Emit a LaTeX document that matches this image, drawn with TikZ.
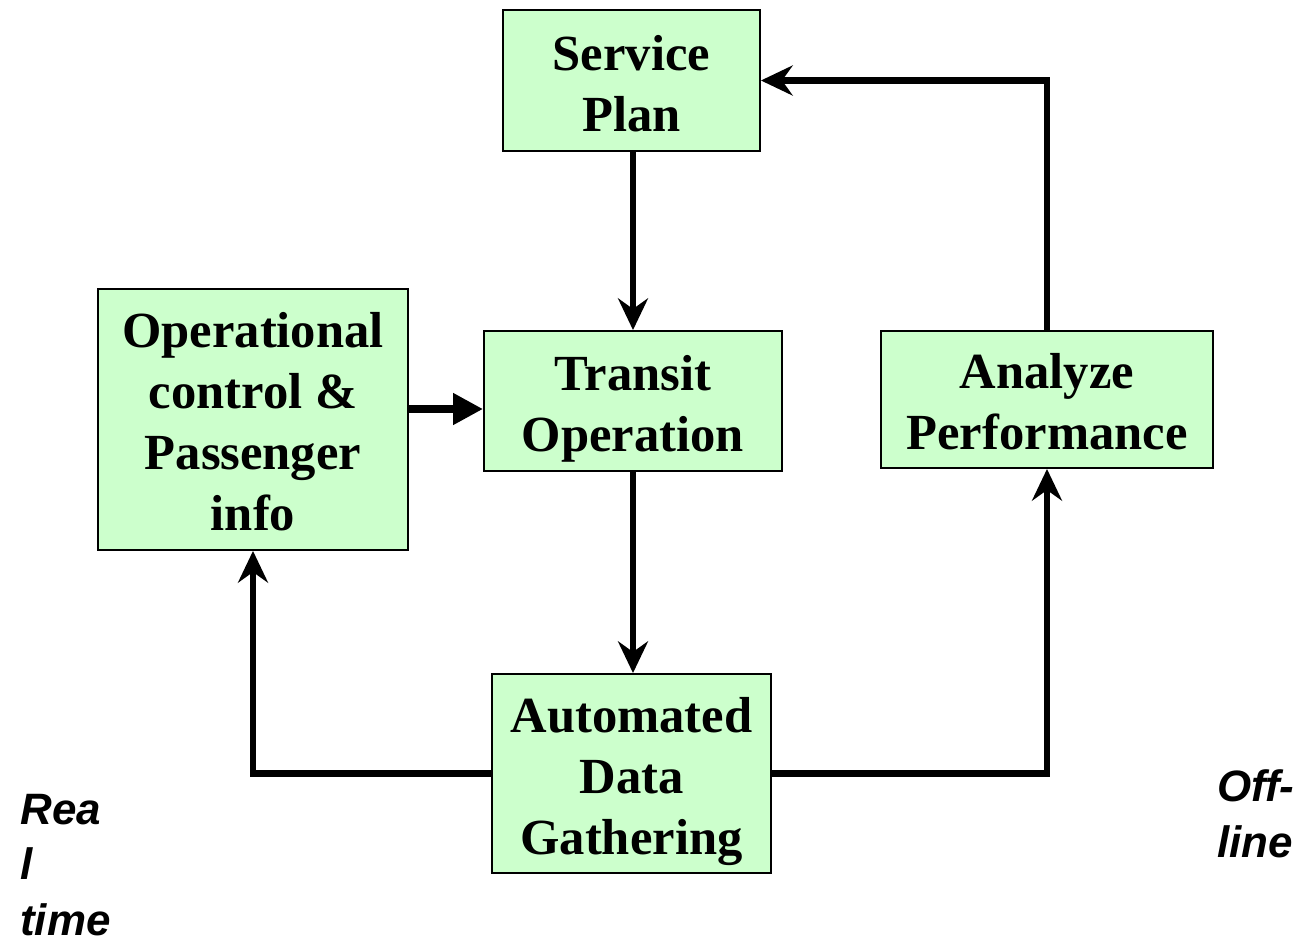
\documentclass[tikz,border=0pt]{standalone}
\usepackage{fontspec}
\setmainfont{Liberation Serif}
\newfontfamily\labelfont{Liberation Sans}
\usetikzlibrary{arrows.meta,calc}
\definecolor{boxgreen}{HTML}{CCFFCC}
\tikzset{
  box/.style={draw=black, line width=1.1pt, fill=boxgreen, inner sep=0pt},
  boxtext/.style={align=center, inner sep=0pt, font=\fontsize{28.8}{34.8}\selectfont\bfseries},
  flow/.style={line width=3.6pt, -{Stealth[length=18pt,width=17pt,inset=6pt]}},
  flowtri/.style={line width=4.2pt, -{Triangle[length=17pt,width=17pt]}},
  sidelabel/.style={align=left, inner sep=0pt, font=\labelfont\fontsize{25}{31.5}\selectfont\bfseries\itshape}
}
\begin{document}
\begin{tikzpicture}[x=0.02cm,y=-0.02cm]
\useasboundingbox (0,0) rectangle (1302,937);
\node[box, minimum width=5.14cm, minimum height=2.82cm] (SP) at (631.5,80.5) {};
\node[box, minimum width=6.2cm, minimum height=5.22cm] (OC) at (253,419.5) {};
\node[box, minimum width=5.96cm, minimum height=2.8cm] (TO) at (633,401) {};
\node[box, minimum width=6.64cm, minimum height=2.74cm] (AP) at (1047,399.5) {};
\node[box, minimum width=5.58cm, minimum height=3.98cm] (ADG) at (631.5,773.5) {};
\node[boxtext] (SPt) at ($(SP.center)+(0,3)$) {Service\\Plan};
\node[boxtext] (OCt) at ($(OC.center)+(0,2)$) {Operational\\control \&\\Passenger\\info};
\node[boxtext] (TOt) at ($(TO.center)+(0,8)$) {Transit\\Operation};
\node[boxtext] (APt) at ($(AP.center)+(0,2)$) {Analyze\\Performance};
\node[boxtext] (ADGt) at ($(ADG.center)+(0,8)$) {Automated\\Data\\Gathering};
\node[sidelabel, anchor=base west] (RT) at (20,935) {Rea\\l\\time};
\node[sidelabel, anchor=base west] (OL) at (1217,857) {Off-\\line};
\draw[flow] (TO.north |- SP.south) -- (TO.north);
\draw[flowtri] ($(OC.east)+(0,-10.5)$) -- ($(TO.west)+(0,8)$);
\draw[flow] (TO.south) -- (TO.south |- ADG.north);
\draw[flow] (ADG.west) -- (OC.south |- ADG.west) -- (OC.south);
\draw[flow] (ADG.east) -| (AP.south);
\draw[flow] (AP.north) |- (SP.east);
\end{tikzpicture}
\end{document}
